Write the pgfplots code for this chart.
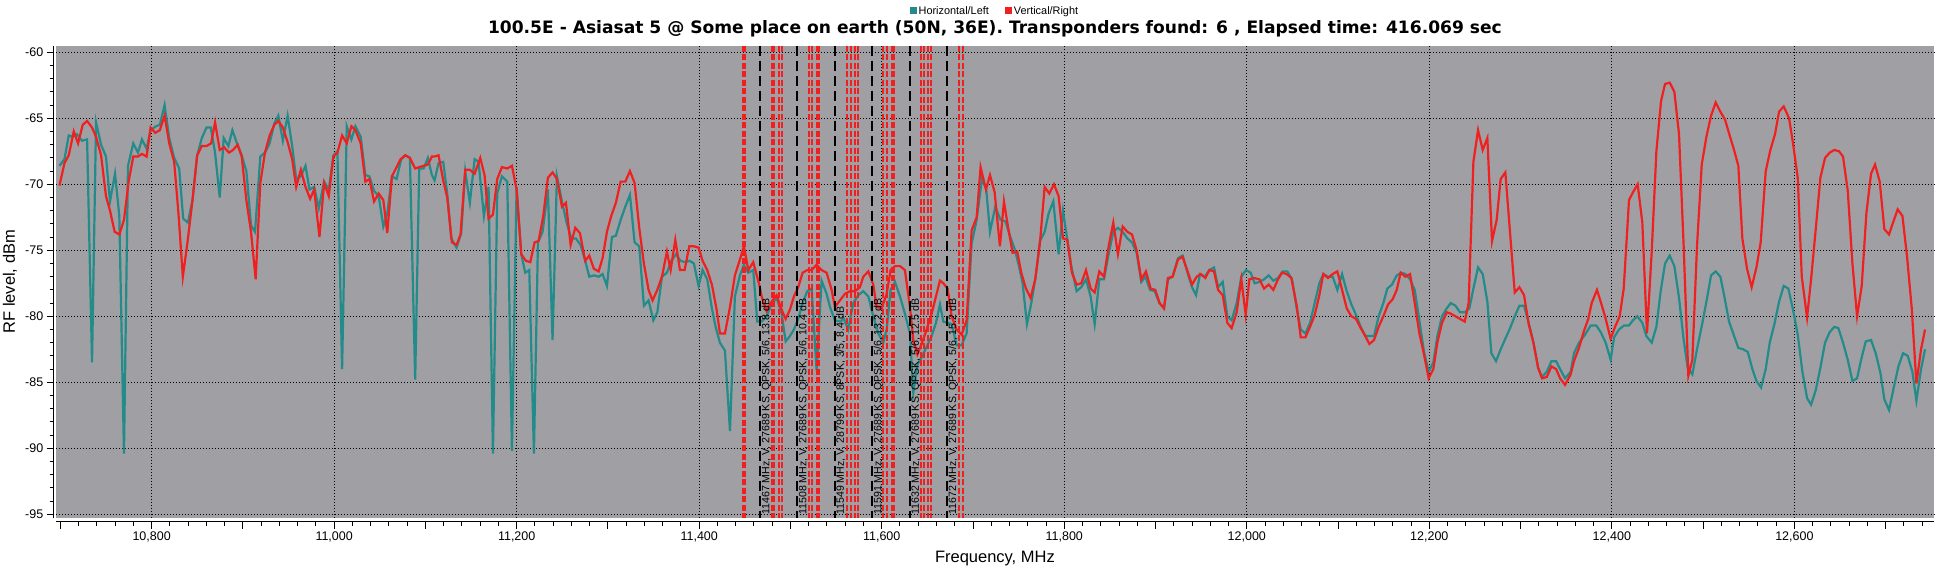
\documentclass[border=0pt]{standalone}
\usepackage{fontspec}
\setmainfont{Liberation Sans}
\newfontfamily\dejavu{DejaVu Sans}
\usepackage{pgfplots}
\pgfplotsset{compat=1.18}
\definecolor{bggray}{RGB}{160,160,164}
\definecolor{hteal}{RGB}{35,140,138}
\definecolor{vred}{RGB}{240,32,32}
\begin{document}
\begin{tikzpicture}
\path[use as bounding box] (0,0) rectangle (1935pt,567pt);
\begin{axis}[
  at={(55.8pt,49.3pt)}, anchor=south west,
  scale only axis, width=1878.2pt, height=472pt,
  xmin=10695, xmax=12753, ymin=-95.26, ymax=-59.5,
  scaled x ticks=false, scaled y ticks=false,
  axis background/.style={fill=bggray},
  axis x line*=bottom, axis y line*=left,
  axis x line shift=4pt, axis y line shift=2pt,
  axis line style={black, line width=1pt, -},
  xtick={10800,11000,...,12600},
  xticklabels={{10,800},{11,000},{11,200},{11,400},{11,600},{11,800},{12,000},{12,200},{12,400},{12,600}},
  extra x ticks={10700,10900,...,12700},
  extra x tick labels={},
  extra x tick style={grid=none},
  minor xtick={10700,10720,...,12740},
  ytick={-95,-90,...,-60},
  yticklabels={-95,-90,-85,-80,-75,-70,-65,-60},
  minor ytick={-95,-94,...,-60},
  tick align=outside,
  major tick length=7pt, minor tick length=4pt,
  tick style={black, line width=1pt},
  grid=major,
  major grid style={black, line width=1pt, dash pattern=on 1pt off 2pt},
  ticklabel style={font=\fontsize{12.5}{14}\selectfont},
  title={100.5E - Asiasat 5 @ Some place on earth (50N, 36E). Transponders found: 6 , Elapsed time: 416.069 sec},
  title style={at={(axis description cs:0.5,1.0227)}, anchor=center, font=\dejavu\bfseries\fontsize{17.1}{18}\selectfont},
  xlabel={Frequency, MHz},
  xlabel style={at={(axis description cs:0.5,-0.0858)}, anchor=center, font=\fontsize{16.5}{18}\selectfont},
  ylabel={RF level, dBm},
  ylabel style={at={(axis description cs:-0.0244,0.5)}, anchor=center, font=\fontsize{16.5}{18}\selectfont},
  legend columns=2,
  legend style={draw=none, fill=none, at={(axis description cs:0.5,1.0735)}, anchor=center,
    font=\fontsize{10.9}{12}\selectfont, /tikz/every even column/.append style={column sep=14pt}},
  legend image code/.code={\fill[#1, draw=none] (0pt,-3.5pt) rectangle (7pt,3.5pt);},
]
\addplot[hteal, line width=2.2pt] coordinates {
(10699,-68.6)(10704.5,-68.1)(10709.2,-66.3)(10713.6,-66.4)(10718,-66.2)(10723.8,-66.7)(10729.3,-66.6)(10734.7,-83.5)(10739.1,-65.3)(10744.6,-67.0)(10750,-67.9)(10754.4,-71.3)(10759.9,-69.2)(10764.6,-72.4)(10769.7,-90.4)(10774.1,-68.6)(10779.9,-66.9)(10785,-67.6)(10789.4,-66.6)(10794.5,-67.3)(10798.9,-65.9)(10804.7,-65.6)(10809,-65.5)(10814.2,-64.0)(10819.3,-66.5)(10824.7,-68.0)(10830.2,-68.8)(10834.6,-72.6)(10839.7,-72.9)(10844.8,-71.2)(10849.9,-67.8)(10855,-66.5)(10860.1,-65.7)(10864.8,-65.7)(10869.5,-67.6)(10874.6,-71.0)(10879,-66.5)(10884.1,-67.1)(10888.5,-65.9)(10894,-67.0)(10898.7,-67.8)(10903.8,-69.0)(10908.9,-73.1)(10913.3,-73.6)(10919.1,-67.9)(10924.2,-67.6)(10929.3,-66.9)(10934.4,-65.4)(10938.8,-64.8)(10943.8,-66.7)(10949,-64.8)(10954,-67.1)(10958.4,-69.6)(10963.5,-69.4)(10968.6,-68.6)(10973,-70.4)(10978.1,-70.2)(10983.2,-71.8)(10989,-69.8)(10994.1,-70.4)(10999.2,-67.8)(11003.6,-67.5)(11008.7,-84.0)(11013.8,-65.6)(11018.9,-66.6)(11023.3,-65.6)(11029.1,-66.4)(11034.2,-69.3)(11038.6,-69.4)(11043.7,-70.5)(11048.8,-70.9)(11053.9,-73.2)(11058.2,-72.2)(11063.3,-69.4)(11068.4,-69.6)(11073.5,-68.1)(11077.9,-67.8)(11083,-68.0)(11088.8,-84.8)(11093.2,-68.8)(11098,-68.8)(11102.7,-68.0)
(11107.1,-69.3)(11110,-69.7)(11114.4,-68.4)(11119.5,-68.3)(11123.9,-70.7)(11128.3,-74.1)(11134.1,-74.8)(11139.2,-73.7)(11143.6,-69.0)(11148.7,-71.4)(11153.9,-68.1)(11158.2,-68.3)(11164.1,-72.4)(11169.2,-70.2)(11174,-90.4)(11178.7,-70.7)(11183.8,-69.4)(11189.7,-69.8)(11194.8,-90.2)(11199.9,-70.2)(11205,-75.3)(11209.4,-76.7)(11213.8,-76.5)(11218.9,-90.4)(11223.3,-74.4)(11228.4,-73.6)(11234.2,-70.4)(11239.3,-81.8)(11244.1,-69.4)(11249.6,-71.3)(11254.7,-72.9)(11259.8,-74.1)(11264.9,-74.1)(11270,-74.6)(11275.1,-75.8)(11279.5,-77.0)(11284.6,-76.9)(11289.8,-77.0)(11294.1,-76.8)(11298.9,-77.7)(11304.4,-74.0)(11308.7,-73.9)(11313.9,-72.7)(11319,-71.7)(11324.1,-70.8)(11329.2,-74.4)(11334.3,-74.7)(11339.4,-79.2)(11344.5,-78.8)(11349.7,-80.3)(11354.1,-79.7)(11359.2,-77.0)(11364.6,-76.7)(11369.4,-75.8)(11374.5,-75.3)(11379.6,-75.8)(11384.7,-75.9)(11389.5,-75.8)(11394.2,-76.0)(11399.3,-77.7)(11403.7,-76.5)(11408.8,-77.2)(11413.9,-79.4)(11418.3,-80.9)
(11422.7,-82.0)(11428.2,-82.6)(11433.7,-88.7)(11439.1,-78.5)(11444.6,-76.9)(11449,-76.1)(11453.8,-76.7)(11459.2,-76.5)(11463.6,-80.4)(11468.4,-80.4)(11473.8,-80.0)(11479.3,-79.1)(11484.8,-78.6)(11490.3,-79.8)(11494.7,-81.9)(11499.4,-81.5)(11503.8,-81.0)(11508.5,-80.2)(11513.3,-79.0)(11518.4,-78.1)(11523.2,-77.9)(11528.6,-84.1)(11534.1,-77.3)(11539.6,-78.3)(11543.3,-79.3)(11548.7,-80.3)(11554.2,-80.4)(11558.6,-80.2)(11563.3,-81.0)(11568.8,-79.0)(11574.3,-78.4)(11579.8,-78.1)(11585.3,-78.5)(11590.7,-80.0)(11596.2,-81.3)(11601.7,-82.0)(11605.4,-81.0)(11609.7,-78.0)(11614.5,-77.4)(11620,-78.5)(11625.4,-79.8)(11630.9,-81.3)(11634.6,-85.8)(11639,-83.7)(11643.7,-83.1)(11649.2,-82.3)(11654.7,-81.5)(11659.4,-80.5)(11663.8,-79.1)(11667.5,-80.4)(11672.2,-80.5)(11676.6,-80.6)(11682.1,-82.2)(11687.5,-82.2)(11693,-81.3)(11698.5,-74.5)(11704,-72.7)
(11709.8,-69.6)(11714.5,-70.4)(11718.6,-73.6)(11724.4,-71.7)(11730.2,-72.7)(11735.4,-72.8)(11740.5,-73.9)(11745.6,-74.9)(11750,-76.1)(11754.4,-77.5)(11759.1,-80.6)(11763.9,-79.0)(11768.6,-77.0)(11773.4,-74.3)(11778.5,-73.6)(11782.9,-72.2)(11788,-71.3)(11793.8,-75.3)(11798.6,-72.0)(11803.3,-74.2)(11807.7,-76.2)(11813.5,-78.1)(11818.6,-77.8)(11823.8,-77.2)(11828.9,-78.5)(11833.3,-80.6)(11838.4,-77.2)(11843.5,-77.2)(11848.6,-75.3)(11853.7,-73.6)(11858.8,-73.3)(11864,-73.6)(11869.1,-74.1)(11874.2,-74.4)(11879.3,-75.2)(11884.4,-77.4)(11888.8,-77.0)(11894,-78.0)(11899.1,-78.1)(11904.2,-79.0)(11909.3,-79.4)(11913.6,-77.2)(11918.7,-77.0)(11924.6,-75.6)(11929.7,-75.4)
(11936.3,-77.0)(11940,-77.8)(11944.4,-78.4)(11948.7,-76.8)(11953.9,-77.0)(11959,-76.5)(11964.1,-76.3)(11968.5,-77.8)(11973.6,-77.4)(11978.7,-80.0)(11983.4,-80.3)(11988.9,-79.0)(11994,-77.0)(11999.1,-76.5)(12004.3,-76.7)(12008.6,-77.5)(12013.8,-77.4)(12018.9,-77.2)(12024,-76.9)(12029.1,-77.3)(12034.2,-77.1)(12039.3,-76.6)(12044.4,-76.6)(12049.6,-77.2)(12054.7,-79.4)(12059.1,-81.0)(12064.2,-81.3)(12069.3,-80.5)(12074.4,-79.0)(12079.5,-77.5)(12083.9,-76.8)(12089,-77.0)(12094.1,-77.0)(12099.2,-78.0)(12104.4,-76.8)(12109.5,-78.1)(12114.6,-79.1)(12119.7,-79.9)(12124.8,-80.8)(12129.9,-81.5)(12134.3,-81.5)(12139.4,-81.5)(12144.5,-80.0)(12149.6,-79.0)(12154,-77.9)(12159.1,-77.6)(12164.3,-76.9)(12169.4,-76.7)(12173.8,-76.8)(12178.9,-77.2)(12184,-78.0)(12189.1,-80.3)(12194.2,-82.7)(12199.3,-84.2)(12204.4,-83.5)(12208.8,-81.5)(12213.9,-80.0)(12219.1,-79.4)(12223.4,-79.0)(12228.6,-79.2)(12233.7,-79.7)(12238.8,-79.7)(12243.9,-79.4)(12248.3,-77.9)(12253.4,-76.3)(12258.5,-76.8)(12263.6,-78.9)(12268,-82.8)(12273.1,-83.4)(12278.2,-82.5)(12283.3,-81.7)(12288.5,-80.9)(12293.6,-80.0)(12298.7,-79.2)(12303.8,-79.2)(12308.9,-80.5)(12314.1,-82.0)(12319.2,-83.9)(12323.5,-84.6)(12328.7,-84.2)(12333.8,-83.4)(12338.9,-83.4)(12343.3,-84.0)
(12348.7,-84.7)(12354.9,-84.2)(12358.5,-82.8)(12364,-82.0)(12370.6,-81.4)(12376.8,-80.7)(12383,-80.7)(12387.8,-81.2)(12393.2,-82.0)(12398.7,-83.3)(12402.4,-81.6)(12407.9,-81.0)(12413.3,-80.7)(12418.8,-80.7)(12423.2,-80.3)(12427.9,-80.0)(12433.4,-80.5)(12437.8,-81.5)(12443.7,-82.0)(12448.8,-80.8)(12453.5,-78.1)(12458.3,-76.0)(12463.4,-75.4)(12468.5,-76.2)(12473.6,-78.6)(12478.7,-81.8)(12483.1,-83.9)(12488.2,-84.4)(12493.3,-82.5)(12499.2,-80.5)(12503.6,-78.9)(12508.7,-76.9)(12513.8,-76.6)(12518.9,-77.0)(12523.3,-78.5)(12528.4,-80.4)(12533.5,-81.4)(12538.6,-82.4)(12543.8,-82.5)(12548.9,-82.7)(12554,-84.0)(12558.4,-84.9)(12563.5,-85.4)(12568.6,-84.0)(12573,-82.0)(12578.1,-80.6)(12583.2,-78.9)(12588.3,-77.7)(12593.4,-77.9)(12598.5,-79.5)(12603.7,-81.4)(12608.8,-84.2)(12613.9,-86.2)(12618.3,-86.7)(12623.4,-85.6)(12628.5,-83.9)(12633.6,-82.0)(12638.7,-81.2)(12643.8,-80.8)(12648.2,-80.9)(12653.3,-82.0)(12658.5,-83.3)(12663.6,-84.9)(12668.7,-84.7)(12673.1,-83.3)(12678.2,-81.9)(12684,-81.8)(12689.1,-82.8)(12694.3,-84.3)(12698.6,-86.3)(12703.7,-87.1)(12708.9,-85.4)(12714,-83.8)(12719.1,-82.8)(12724.2,-83.0)(12729.3,-84.2)(12733.7,-86.4)(12738.8,-84.0)(12743.2,-82.5)
};
\addlegendentry{Horizontal/Left}
\addplot[vred, line width=2.2pt] coordinates {
(10699,-70.1)(10704.5,-68.4)(10709.2,-67.8)(10714.7,-66.0)(10719.4,-66.9)(10724.5,-65.5)(10729.3,-65.2)(10734.7,-65.7)(10739.1,-66.4)(10744.6,-67.8)(10750,-70.9)(10754.4,-72.0)(10759.5,-73.6)(10764.6,-73.8)(10769.7,-72.7)(10774.8,-69.8)(10779.9,-67.9)(10785,-67.9)(10789.4,-67.7)(10794.5,-67.9)(10798.9,-65.7)(10804,-66.1)(10809,-65.9)(10814.2,-64.8)(10819.3,-66.9)(10824.7,-68.3)(10829.5,-72.3)(10834.2,-77.0)(10839.3,-74.4)(10844.8,-71.2)(10849.9,-67.8)(10855,-67.1)(10860.1,-67.1)(10865.2,-66.9)(10869.5,-65.3)(10874.6,-67.4)(10879.4,-67.2)(10884.8,-67.6)(10889.2,-67.4)(10894.3,-67.0)(10898.7,-67.9)(10903.8,-71.2)(10908.9,-73.6)(10914,-77.2)(10919.1,-69.9)(10924.2,-67.6)(10929.3,-66.3)(10934.4,-65.5)(10938.8,-65.2)(10943.8,-65.7)(10949,-66.8)(10954,-68.1)(10958.4,-70.2)(10963.5,-68.9)(10968.6,-70.2)(10973.7,-71.1)(10978.1,-70.4)(10983.9,-74.0)(10989,-69.9)(10994.1,-70.9)(10999.2,-67.9)(11003.6,-67.6)(11008.7,-66.3)(11013.8,-66.9)(11018.9,-65.6)(11023.3,-65.9)(11029.1,-66.9)(11034.2,-69.8)(11038.6,-69.6)(11043.7,-71.3)(11048.8,-70.7)(11053.9,-71.2)(11058.2,-73.7)(11063.3,-69.4)(11072.8,-68.1)(11077.9,-67.8)(11083,-68.0)(11088.8,-68.8)(11093.2,-68.7)(11098,-68.6)(11102.7,-68.5)
(11107.1,-67.9)(11110,-67.9)(11114.4,-67.8)(11119.5,-69.7)(11123.9,-71.0)(11129,-74.4)(11134.1,-74.6)(11138.5,-73.8)(11143.6,-68.9)(11148.7,-68.9)(11153.9,-69.2)(11160.1,-68.0)(11164.8,-69.3)(11169.2,-72.6)(11174,-72.3)(11178.7,-69.6)(11183.8,-68.7)(11189.7,-68.8)(11194.8,-68.6)(11199.9,-70.4)(11205,-75.3)(11210.1,-75.8)(11214.9,-75.9)(11219.6,-74.4)(11224,-74.3)(11229.1,-72.4)(11234.2,-69.5)(11239.3,-69.1)(11244.1,-69.6)(11249.6,-71.7)(11254,-71.4)(11259.1,-74.6)(11264.2,-73.3)(11269.3,-73.7)(11275.1,-75.8)(11279.5,-75.4)(11284.6,-76.4)(11289.8,-76.6)(11294.1,-75.6)(11298.9,-73.6)(11303.6,-72.4)(11308.7,-71.4)(11313.9,-69.8)(11319,-69.8)(11324.1,-69.0)(11329.2,-69.9)(11334.3,-73.3)(11339.4,-76.0)(11344.5,-78.0)(11348.9,-78.8)(11354.1,-78.0)(11359.2,-77.0)(11364.6,-75.1)(11368.7,-76.5)(11373.8,-74.2)(11378.9,-76.5)(11384,-76.5)(11389.1,-74.7)(11394.2,-74.7)(11399.3,-74.8)(11403.7,-75.8)(11408.8,-76.5)(11413.9,-77.6)(11419.1,-79.5)
(11422.7,-81.3)(11428.2,-81.3)(11433.7,-79.3)(11439.1,-76.9)(11444.6,-75.7)(11449,-74.7)(11453.8,-76.5)(11459.2,-75.9)(11465.8,-77.6)(11468.4,-78.5)(11473.8,-79.6)(11479.3,-78.9)(11484.8,-78.4)(11490.3,-79.5)(11494.7,-80.2)(11499.4,-79.5)(11503.8,-78.5)(11508.5,-77.8)(11513.3,-76.7)(11518.4,-76.5)(11523.2,-76.5)(11528.6,-76.1)(11534.1,-76.5)(11539.6,-76.7)(11545.1,-78.0)(11548.7,-79.3)(11554.2,-78.8)(11559.7,-78.3)(11565.2,-78.1)(11570.6,-78.1)(11576.1,-77.8)(11579.8,-77.0)(11585.3,-76.6)(11590.7,-77.6)(11594.4,-79.3)(11599.9,-79.4)(11605.4,-78.3)(11609.7,-76.5)(11614.5,-76.2)(11620,-76.2)(11625.4,-76.5)(11630.9,-79.3)(11634.6,-81.8)(11639,-82.9)(11643.7,-82.1)(11649.2,-81.0)(11654.7,-79.8)(11659.4,-78.5)(11663.8,-77.3)(11667.5,-77.5)(11672.2,-77.9)(11676.6,-80.0)(11682.1,-81.0)(11687.5,-81.4)(11693,-80.3)(11698.5,-73.5)(11704,-72.5)
(11708.3,-68.7)(11714.2,-70.4)(11718.6,-69.3)(11723.7,-70.6)(11729.5,-74.7)(11733.9,-71.3)(11738.3,-73.2)(11743.4,-75.2)(11748.5,-75.1)(11752.9,-76.7)(11758,-77.9)(11763.1,-78.6)(11768.2,-77.2)(11773.4,-74.4)(11778.5,-70.2)(11783.6,-70.7)(11788.7,-70.0)(11793.8,-70.9)(11798.6,-74.1)(11803.3,-74.2)(11808.4,-76.7)(11813.5,-77.6)(11818.6,-77.5)(11823.8,-76.5)(11828.9,-77.9)(11833.3,-78.2)(11838.4,-76.6)(11843.5,-77.0)(11848.6,-74.7)(11853.7,-72.9)(11858.8,-75.3)(11864,-73.2)(11869.1,-73.6)(11874.2,-73.8)(11879.3,-75.0)(11884.4,-77.2)(11889.5,-76.6)(11894.7,-77.9)(11899.7,-78.0)(11904.5,-79.0)(11909.3,-79.4)(11913.6,-77.1)(11918.7,-77.0)(11924.6,-75.7)(11929.7,-75.5)
(11935.6,-76.7)(11940,-77.6)(11945.1,-77.0)(11949.5,-76.8)(11954.6,-77.1)(11959,-76.5)(11964.1,-76.6)(11968.5,-78.0)(11973.6,-78.4)(11978.7,-80.5)(11983.4,-80.9)(11988.9,-79.7)(11994,-77.2)(11998.8,-79.9)(12002.8,-77.2)(12007.9,-77.1)(12013.8,-77.2)(12018.9,-77.9)(12024,-77.6)(12029.1,-78.0)(12034.2,-77.2)(12038.6,-76.7)(12043.7,-76.8)(12048.8,-77.1)(12054.7,-79.2)(12059.1,-81.6)(12064.2,-81.6)(12069.3,-80.8)(12074.4,-79.9)(12079.5,-78.4)(12083.9,-76.8)(12089,-77.1)(12094.1,-76.8)(12099.2,-76.6)(12104.4,-78.0)(12109.5,-79.4)(12114.6,-80.0)(12119.7,-80.2)(12124.8,-80.9)(12129.9,-81.5)(12134.3,-82.1)(12139.4,-81.8)(12144.5,-80.8)(12149.6,-80.0)(12154.8,-79.1)(12159.9,-78.7)(12164.3,-78.0)(12168.6,-76.7)(12173.8,-77.0)(12178.9,-76.8)(12184,-79.0)(12189.1,-81.3)(12194.2,-82.9)(12199.3,-84.7)(12204.4,-84.0)(12208.8,-82.0)(12213.9,-80.5)(12219.1,-79.7)(12223.4,-79.8)(12228.6,-80.0)(12233.7,-80.2)(12238.8,-80.4)(12243.1,-79.0)(12248.3,-68.3)(12253.4,-65.9)(12258.5,-67.4)(12263.6,-66.5)(12268.7,-74.3)(12273.8,-72.7)(12278.2,-69.6)(12283.3,-69.1)(12288.5,-73.7)(12293.6,-78.2)(12298.7,-77.8)(12303.8,-78.4)(12308.9,-80.6)(12314.1,-82.0)(12319.2,-83.9)(12323.5,-84.7)(12328.7,-84.6)(12333.8,-83.8)(12338.9,-84.0)(12343.3,-84.7)
(12348.7,-85.2)(12354.9,-84.4)(12358.5,-83.4)(12364,-82.4)(12369.5,-81.1)(12374.2,-80.2)(12377.9,-79.0)(12383.7,-78.0)(12387.8,-78.9)(12392.5,-80.0)(12398.7,-81.7)(12403.5,-80.8)(12408.6,-80.0)(12413,-77.9)(12418.8,-71.2)(12423.2,-70.6)(12428.3,-70.0)(12433.4,-72.9)(12438.5,-81.3)(12443.7,-75.1)(12448.8,-67.5)(12453.9,-63.7)(12458.3,-62.4)(12463.4,-62.3)(12468.5,-63.0)(12473.6,-66.2)(12478.7,-74.7)(12483.8,-84.5)(12488.2,-83.3)(12493.3,-74.7)(12498.5,-68.5)(12503.6,-66.4)(12508.7,-64.8)(12513.8,-63.8)(12518.9,-64.5)(12524,-65.1)(12529.1,-66.3)(12533.5,-67.3)(12538.6,-68.6)(12543,-74.1)(12548.1,-76.4)(12553.2,-77.8)(12558.4,-76.3)(12563.1,-74.4)(12568.6,-69.0)(12573.7,-67.4)(12578.8,-66.2)(12583.2,-64.5)(12588.3,-64.1)(12594.2,-65.0)(12598.5,-66.9)(12603.7,-69.5)(12608.1,-77.0)(12613.9,-80.1)(12618.3,-77.2)(12623.4,-73.4)(12628.5,-69.5)(12633.6,-68.0)(12638.7,-67.6)(12643.8,-67.4)(12649,-67.5)(12653.3,-67.9)(12658.5,-70.5)(12663.6,-76.0)(12668.7,-80.0)(12673.8,-77.7)(12678.9,-72.2)(12684,-69.2)(12688.4,-68.5)(12693.5,-69.8)(12698.6,-73.4)(12703.7,-73.8)(12708.1,-72.9)(12713.2,-71.9)(12718.4,-72.4)(12723.5,-75.5)(12728.6,-79.4)(12733.7,-85.1)(12738.8,-82.5)(12743.2,-81.0)
};
\addlegendentry{Vertical/Right}
\pgfplotsinvokeforeach{11447.5,11450.5,11479.3,11482.2,11487.7,11491,11520.6,11523.5,11528.6,11531.6,11562.2,11565.9,11570.6,11573.6,11601.7,11605.4,11610.8,11613.8,11643,11646.3,11651,11654,11685,11688.7}{
  \addplot[vred, line width=1.9pt, dash pattern=on 6pt off 2.5pt, forget plot] coordinates {(#1,-59.5) (#1,-95.26)};
}
\pgfplotsinvokeforeach{11466.6,11507.2,11548.3,11589.3,11630.5,11671.4}{
  \addplot[black, line width=2pt, dash pattern=on 10pt off 5pt, forget plot] coordinates {(#1,-59.5) (#1,-95.26)};
}
\begin{scope}[every node/.style={rotate=90, anchor=north west, inner sep=0pt, font=\fontsize{10.6}{12}\selectfont}]
\node at (axis cs:11468.2,-95.05) {11467 MHz, V, 27689 KS, QPSK, 5/6, 13.8 dB};
\node at (axis cs:11508.8,-95.05) {11508 MHz, V, 27689 KS, QPSK, 5/6, 10.4 dB};
\node at (axis cs:11549.9,-95.05) {11549 MHz, V, 28799 KS, 8PSK, 3/5, 8.4 dB};
\node at (axis cs:11590.9,-95.05) {11591 MHz, V, 27689 KS, QPSK, 5/6, 13.2 dB};
\node at (axis cs:11632.1,-95.05) {11632 MHz, V, 27689 KS, QPSK, 5/6, 12.5 dB};
\node at (axis cs:11673.0,-95.05) {11672 MHz, V, 27689 KS, QPSK, 5/6, 15.2 dB};
\end{scope}
\end{axis}
\end{tikzpicture}
\end{document}
